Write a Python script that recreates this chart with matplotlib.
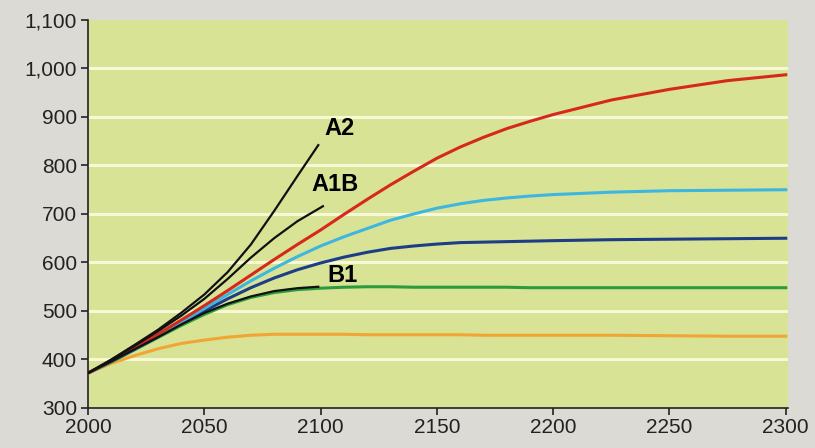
import matplotlib.pyplot as plt
from matplotlib.ticker import FuncFormatter

plt.rcParams["font.family"] = ["Liberation Sans", "DejaVu Sans"]

# long scenarios (to 2300)
years = [2000, 2010, 2020, 2030, 2040, 2050, 2060, 2070, 2080, 2090, 2100,
         2110, 2120, 2130, 2140, 2150, 2160, 2170, 2180, 2190, 2200,
         2225, 2250, 2275, 2300]
red = [372, 398, 424, 452, 481, 511, 542, 574, 606, 637, 667,
       699, 730, 760, 788, 815, 838, 858, 876, 891, 905,
       935, 957, 975, 987]
cyan = [372, 397, 422, 449, 477, 505, 534, 562, 588, 612, 634,
        653, 670, 687, 700, 712, 721, 728, 733, 737, 740,
        745, 748, 749, 750]
blue = [372, 396, 421, 447, 474, 500, 525, 548, 568, 585, 599,
        611, 621, 629, 634, 638, 641, 642, 643, 644, 645,
        647, 648, 649, 650]
green = [372, 395, 420, 445, 470, 493, 513, 528, 538, 544, 547,
         549, 550, 550, 549, 549, 549, 549, 549, 548, 548,
         548, 548, 548, 548]
orange = [372, 392, 408, 422, 433, 440, 446, 450, 452, 452, 452,
          452, 451, 451, 451, 451, 451, 450, 450, 450, 450,
          450, 449, 448, 448]

# SRES scenarios (to 2100)
a2_years = [2000, 2010, 2020, 2030, 2040, 2050, 2060, 2070, 2080, 2090, 2099]
a2 = [372, 400, 430, 461, 496, 534, 580, 637, 706, 778, 842]
a1b_years = [2000, 2010, 2020, 2030, 2040, 2050, 2060, 2070, 2080, 2090, 2101]
a1b = [372, 399, 428, 458, 490, 525, 566, 610, 650, 685, 716]
b1_years = [2000, 2010, 2020, 2030, 2040, 2050, 2060, 2070, 2080, 2090, 2099]
b1 = [372, 396, 421, 446, 472, 496, 515, 530, 541, 547, 550]

fig = plt.figure(figsize=(8.15, 4.48), dpi=100)
fig.patch.set_facecolor("#dcdad5")
ax = fig.add_axes([0.108, 0.0893, 0.859, 0.8661])
ax.set_facecolor("#d8e396")

for v in range(400, 1100, 100):
    ax.axhline(v, color="#f6f8d6", lw=2.2, zorder=1)

ax.plot(years, orange, color="#f0a535", lw=2.2, zorder=3)
ax.plot(years, green, color="#2b9b3c", lw=2.2, zorder=3)
ax.plot(years, blue, color="#1d3d87", lw=2.2, zorder=3)
ax.plot(years, cyan, color="#3db6e0", lw=2.2, zorder=3)
ax.plot(years, red, color="#d6281c", lw=2.2, zorder=3)

ax.plot(a2_years, a2, color="#111111", lw=1.6, zorder=4)
ax.plot(a1b_years, a1b, color="#111111", lw=1.6, zorder=4)
ax.plot(b1_years, b1, color="#111111", lw=1.6, zorder=4)

ax.text(2101.5, 877, "A2", fontsize=17, fontweight="bold", ha="left", va="center")
ax.text(2096, 760, "A1B", fontsize=17, fontweight="bold", ha="left", va="center")
ax.text(2103, 573, "B1", fontsize=17, fontweight="bold", ha="left", va="center")

ax.set_xlim(2000, 2301)
ax.set_ylim(300, 1100)
ax.set_xticks(range(2000, 2301, 50))
ax.set_yticks(range(300, 1101, 100))
ax.yaxis.set_major_formatter(FuncFormatter(lambda v, p: f"{int(v):,}"))

for s in ["top", "right"]:
    ax.spines[s].set_visible(False)
for s in ["left", "bottom"]:
    ax.spines[s].set_color("#222222")
    ax.spines[s].set_linewidth(1.2)
ax.tick_params(labelsize=15, length=5, width=1.2, color="#222222",
               labelcolor="#222222", pad=2)
ax.tick_params(axis="y", pad=3)

fig.savefig("out.png", dpi=100, facecolor=fig.get_facecolor())
